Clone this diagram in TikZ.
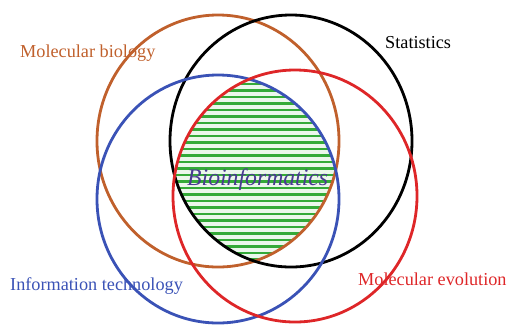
\documentclass[tikz,border=0pt]{standalone}
\usepackage{fontspec}
\setmainfont{Liberation Serif}
\usetikzlibrary{positioning}

\definecolor{biobrown}{RGB}{192,96,44}
\definecolor{itblue}{RGB}{58,82,182}
\definecolor{evored}{RGB}{222,38,40}
\definecolor{hatchgreen}{RGB}{52,170,56}
\definecolor{bioviolet}{RGB}{74,58,146}

\begin{document}
\begin{tikzpicture}[
    x=1bp, y=-1bp,
    ring/.style={line width=2.8bp},
    stripe/.style={hatchgreen, line width=2.4bp},
    label/.style={inner sep=0pt, anchor=base west, font=\fontsize{18.3}{20}\selectfont},
    core/.style={inner sep=0pt, anchor=base west, bioviolet, font=\fontsize{23.8}{26}\selectfont\itshape}
]
\useasboundingbox (0,0) rectangle (514,325);

% hatched common part
\begin{scope}
  \clip (218,141) ellipse [x radius=121, y radius=126];
  \clip (291,141) ellipse [x radius=121, y radius=126];
  \clip (218,199) ellipse [x radius=121, y radius=124];
  \clip (295,196) ellipse [x radius=122, y radius=126];
  \fill[hatchgreen!10] (150,60) rectangle (360,280);
  \foreach \y in {84,90.5,...,272}
    \draw[stripe] (150,\y) -- (360,\y);
\end{scope}

\draw[ring, biobrown] (218,141) ellipse [x radius=121, y radius=126];
\draw[ring, black] (291,141) ellipse [x radius=121, y radius=126];
\draw[ring, itblue] (218,199) ellipse [x radius=121, y radius=124];
\draw[ring, evored] (295,196) ellipse [x radius=122, y radius=126];

\node[label, biobrown] (molbio) at (20,57) {Molecular biology};
\node[label, black] (stats) at (385,48) {Statistics};
\node[label, itblue] (infotech) at (10,290) {Information technology};
\node[label, evored] (molevo) at (358,285) {Molecular evolution};
\node[core] (bioinf) at (187,185) {Bioinformatics};

\end{tikzpicture}
\end{document}
